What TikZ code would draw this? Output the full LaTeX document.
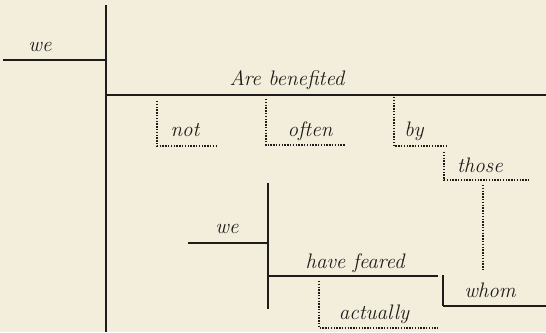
\documentclass[tikz,border=0pt]{standalone}
\usepackage{fontspec}
\setmainfont{Latin Modern Roman}
\definecolor{paper}{HTML}{F3EEDC}
\definecolor{ink}{HTML}{1E1C1A}
\tikzset{
  word/.style={font=\fontsize{21}{24}\selectfont\itshape, text=ink, inner sep=0pt, anchor=base},
  thickbar/.style={draw=ink, line width=2.8pt},
  baseline/.style={draw=ink, line width=1.5pt},
  dotline/.style={draw=ink, line width=1.2pt, dash pattern=on 1.3pt off 1.5pt},
}
\begin{document}
\begin{tikzpicture}[x=1pt,y=-1pt]
\fill[paper] (0,0) rectangle (546,332);
\useasboundingbox (0,0) rectangle (546,332);
% main clause
\coordinate (mtop) at (106,5);
\coordinate (mbot) at (106,332);
\coordinate (subjL) at (3,60);
\coordinate (subjR) at (106,60);
\coordinate (predL) at (106,95);
\coordinate (predR) at (546,95);
\draw[thickbar] (mtop) -- (mbot);
\draw[baseline] (subjL) -- (subjR);
\draw[baseline] (predL) -- (predR);
\node[word] (we1) at (40,51) {we};
\node[word] (are) at (287,85) {Are benefited};
% modifiers
\coordinate (notT) at (157,101); \coordinate (notC) at (157,146); \coordinate (notE) at (218,146);
\draw[dotline] (notT) -- (notC) -- (notE);
\node[word] (not) at (185,136) {not};
\coordinate (ofT) at (266,99); \coordinate (ofC) at (266,145); \coordinate (ofE) at (345,145);
\draw[dotline] (ofT) -- (ofC) -- (ofE);
\node[word] (often) at (310,136) {often};
\coordinate (byT) at (394,97); \coordinate (byC) at (394,146); \coordinate (byE) at (446,146);
\draw[dotline] (byT) -- (byC) -- (byE);
\node[word] (by) at (414,136) {by};
\coordinate (thT) at (444,152); \coordinate (thC) at (444,180); \coordinate (thE) at (530,180);
\draw[dotline] (thT) -- (thC) -- (thE);
\node[word] (those) at (480,172) {those};
\coordinate (relT) at (483,185); \coordinate (relB) at (483,271);
\draw[dotline] (relT) -- (relB);
% subordinate clause
\coordinate (stop) at (268,183); \coordinate (sbot) at (268,309);
\draw[thickbar] (stop) -- (sbot);
\coordinate (s2L) at (188,243); \coordinate (s2R) at (268,243);
\draw[baseline] (s2L) -- (s2R);
\node[word] (we2) at (227,233) {we};
\coordinate (hfL) at (268,276); \coordinate (hfR) at (438,276);
\draw[baseline] (hfL) -- (hfR);
\node[word] (hf) at (355,268) {have feared};
\coordinate (obT) at (443,275); \coordinate (obB) at (443,306); \coordinate (obR) at (546,306);
\draw[draw=ink, line width=1.3pt] (obT) -- (obB);
\draw[baseline] (obB) -- (obR);
\node[word] (whom) at (490,297) {whom};
\coordinate (acT) at (319,281); \coordinate (acC) at (319,328); \coordinate (acE) at (438,328);
\draw[dotline] (acT) -- (acC) -- (acE);
\node[word] (actually) at (374,319) {actually};
\end{tikzpicture}
\end{document}
